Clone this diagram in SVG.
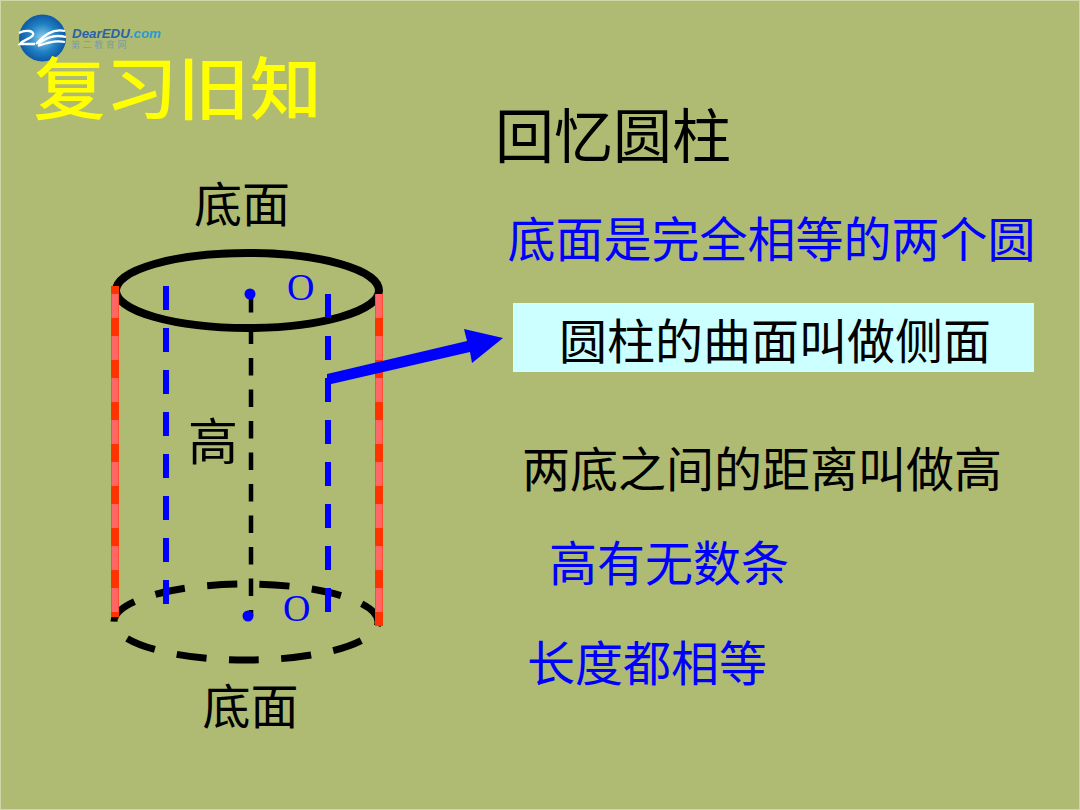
<svg xmlns="http://www.w3.org/2000/svg" width="1080" height="810" viewBox="0 0 1080 810">
<style>
.t{font-family:"Noto Sans CJK SC","Liberation Serif",serif;font-weight:400}
.bk{fill:#000}.bl{fill:#0000ff}
.o{font-family:"Liberation Serif",serif;font-size:38px;fill:#0000ff}
.red{fill:none;stroke:#ff3300;stroke-width:8}
.pink{fill:none;stroke:#ff6666;stroke-width:7;stroke-dasharray:24 18}
.bd{fill:none;stroke:#0000ff;stroke-width:6;stroke-dasharray:24 18}
</style>
<defs>
<radialGradient id="g" cx="0.5" cy="0.5" r="0.55"><stop offset="0" stop-color="#8fd0ee"/><stop offset="0.55" stop-color="#1f80c2"/><stop offset="1" stop-color="#0a4f9c"/></radialGradient>
</defs>
<rect width="1080" height="810" fill="#afbb72"/>
<rect x="0.5" y="0.5" width="1079" height="809" fill="none" stroke="#d0d6a8" stroke-width="1"/>
<g id="logo">
<circle cx="42.5" cy="38" r="23.5" fill="url(#g)"/>
<path d="M19 33C26 29 35 31 33 35C31 39 24 39 20 44H35M36 44C44 36 52 28 65 31M38 44C46 38 54 34 66 37M38 46C48 42 56 40 65 42" fill="none" stroke="#fff" stroke-width="2.3"/>
<text x="72" y="38" font-family="Liberation Sans,sans-serif" font-size="12.5" font-weight="700" font-style="italic" fill="#2a62a8" textLength="89" lengthAdjust="spacingAndGlyphs">DearEDU<tspan fill="#2a9ad0">.com</tspan></text>
<text x="71" y="48" class="t" font-size="9" letter-spacing="2.6" fill="#7d9ca0">第二教育网</text>
</g>
<g id="title"><text transform="translate(33.500 113.5) scale(1.06 1)" class="t" font-size="68" style="fill:#ffff00;font-weight:500">复习旧知</text></g>
<g id="heading"><text x="495" y="158" class="t bk" font-size="59">回忆圆柱</text></g>
<g id="connectors">
<ellipse cx="247.5" cy="290.5" rx="131.5" ry="37.5" fill="none" stroke="#000" stroke-width="8"/>
<ellipse cx="246" cy="622" rx="132" ry="38" fill="none" stroke="#000" stroke-width="7" stroke-dasharray="30 22.35" stroke-dashoffset="-26.3"/>
<path class="red" d="M115 286V617M379 294V626"/>
<path class="pink" d="M115 294V617M379 294V626"/>
<path class="bd" d="M166 286V604M328 294V612"/>
<path d="M251 295V616" fill="none" stroke="#000" stroke-width="4.5" stroke-dasharray="17.5 14"/>
<path d="M327 374L467 341L464 329L503 338L472 363L470 352L327 385Z" fill="#0000ff"/>
</g>
<g id="base-top"><text x="194" y="222" class="t bk" font-size="48">底面</text></g>
<g id="center-top"><circle cx="250" cy="294" r="5.5" fill="#0000ff"/><text x="287" y="300" class="o">O</text></g>
<g id="center-bottom"><circle cx="248" cy="616" r="5.5" fill="#0000ff"/><text x="283" y="621" class="o">O</text></g>
<g id="height"><text x="188" y="460" class="t bk" font-size="50">高</text></g>
<g id="base-bottom"><text x="202.500" y="724" class="t bk" font-size="48">底面</text></g>
<g id="l1"><text x="507.500" y="257" class="t bl" font-size="48">底面是完全相等的两个圆</text></g>
<g id="l2"><rect x="513" y="303" width="521" height="69" fill="#ccffff"/><text x="559" y="359" class="t bk" font-size="48">圆柱的曲面叫做侧面</text></g>
<g id="l3"><text x="522" y="487" class="t bk" font-size="48">两底之间的距离叫做高</text></g>
<g id="l4"><text x="549" y="581" class="t bl" font-size="48">高有无数条</text></g>
<g id="l5"><text x="527" y="681" class="t bl" font-size="48">长度都相等</text></g>
</svg>
